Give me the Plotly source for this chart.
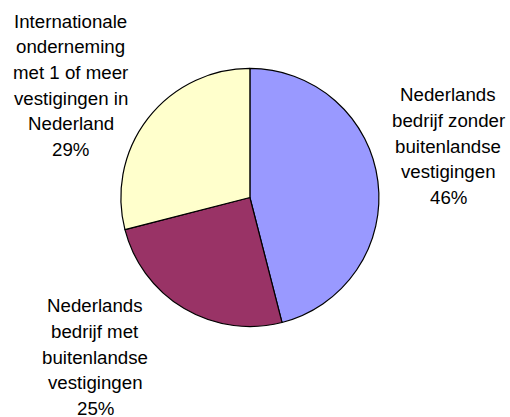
import plotly.graph_objects as go

categories = [
    "Nederlands<br>bedrijf zonder<br>buitenlandse<br>vestigingen",
    "Nederlands<br>bedrijf met<br>buitenlandse<br>vestigingen",
    "Internationale<br>onderneming<br>met 1 of meer<br>vestigingen in<br>Nederland",
]
values = [46, 25, 29]
colors = ["#9999FF", "#993366", "#FFFFCC"]

# label block placement (layout): x centre px, y of first-line middle px
label_pos = [(448, 94.5), (95, 305.5), (70.5, 21.0)]

W, H = 510, 417
LINE = 25.75

fig = go.Figure(go.Pie(
    labels=[c.replace("<br>", " ") for c in categories],
    values=values,
    sort=False,
    direction="clockwise",
    rotation=0,
    marker=dict(colors=colors, line=dict(color="#000000", width=1.2)),
    textinfo="none",
    hoverinfo="label+percent",
    showlegend=False,
    domain=dict(x=[0.2370, 0.7430], y=[0.2170, 0.8358]),
))

total = sum(values)
annotations = []
for cat, val, (cx, cy) in zip(categories, values, label_pos):
    lines = cat.split("<br>") + [f"{round(100 * val / total)}%"]
    for i, ln in enumerate(lines):
        ypx = cy + i * LINE
        annotations.append(dict(
            x=cx / W, y=1 - ypx / H, xref="paper", yref="paper",
            text=ln, showarrow=False, xanchor="center", yanchor="middle",
            font=dict(family="Liberation Sans, Arial, sans-serif", size=18.7, color="#000000"),
        ))

fig.update_layout(
    width=W, height=H,
    margin=dict(l=0, r=0, t=0, b=0),
    paper_bgcolor="#FFFFFF",
    plot_bgcolor="#FFFFFF",
    annotations=annotations,
)

fig.write_html("out.html")
